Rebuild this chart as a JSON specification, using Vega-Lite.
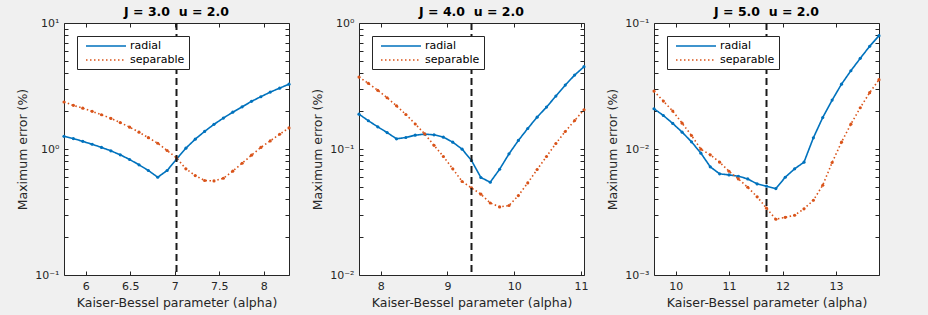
{
  "$schema": "https://vega.github.io/schema/vega-lite/v6.json",
  "background": "#f0f0f0",
  "padding": {"left": 16, "top": 5, "right": 48, "bottom": 11},
  "spacing": 70,
  "bounds": "flush",
  "datasets": {
    "curves": [
      {"p":1,"s":"radial","a":5.7564,"e":1.26},{"p":1,"s":"radial","a":5.8617,"e":1.21},{"p":1,"s":"radial","a":5.967,"e":1.15},{"p":1,"s":"radial","a":6.0723,"e":1.09},{"p":1,"s":"radial","a":6.1776,"e":1.03},{"p":1,"s":"radial","a":6.2829,"e":0.967},{"p":1,"s":"radial","a":6.3882,"e":0.899},{"p":1,"s":"radial","a":6.4935,"e":0.826},{"p":1,"s":"radial","a":6.5988,"e":0.749},{"p":1,"s":"radial","a":6.7041,"e":0.675},{"p":1,"s":"radial","a":6.8094,"e":0.597},{"p":1,"s":"radial","a":6.9147,"e":0.675},{"p":1,"s":"radial","a":7.02,"e":0.83},{"p":1,"s":"radial","a":7.1253,"e":1.015},{"p":1,"s":"radial","a":7.2306,"e":1.197},{"p":1,"s":"radial","a":7.3359,"e":1.38},{"p":1,"s":"radial","a":7.4412,"e":1.57},{"p":1,"s":"radial","a":7.5465,"e":1.76},{"p":1,"s":"radial","a":7.6518,"e":1.96},{"p":1,"s":"radial","a":7.7571,"e":2.16},{"p":1,"s":"radial","a":7.8624,"e":2.39},{"p":1,"s":"radial","a":7.9677,"e":2.6},{"p":1,"s":"radial","a":8.073,"e":2.83},{"p":1,"s":"radial","a":8.1783,"e":3.04},{"p":1,"s":"radial","a":8.2836,"e":3.27},
      {"p":1,"s":"separable","a":5.7564,"e":2.36},{"p":1,"s":"separable","a":5.8617,"e":2.22},{"p":1,"s":"separable","a":5.967,"e":2.11},{"p":1,"s":"separable","a":6.0723,"e":1.99},{"p":1,"s":"separable","a":6.1776,"e":1.87},{"p":1,"s":"separable","a":6.2829,"e":1.75},{"p":1,"s":"separable","a":6.3882,"e":1.62},{"p":1,"s":"separable","a":6.4935,"e":1.49},{"p":1,"s":"separable","a":6.5988,"e":1.36},{"p":1,"s":"separable","a":6.7041,"e":1.23},{"p":1,"s":"separable","a":6.8094,"e":1.11},{"p":1,"s":"separable","a":6.9147,"e":0.973},{"p":1,"s":"separable","a":7.02,"e":0.851},{"p":1,"s":"separable","a":7.1253,"e":0.696},{"p":1,"s":"separable","a":7.2306,"e":0.615},{"p":1,"s":"separable","a":7.3359,"e":0.562},{"p":1,"s":"separable","a":7.4412,"e":0.558},{"p":1,"s":"separable","a":7.5465,"e":0.586},{"p":1,"s":"separable","a":7.6518,"e":0.667},{"p":1,"s":"separable","a":7.7571,"e":0.771},{"p":1,"s":"separable","a":7.8624,"e":0.893},{"p":1,"s":"separable","a":7.9677,"e":1.03},{"p":1,"s":"separable","a":8.073,"e":1.16},{"p":1,"s":"separable","a":8.1783,"e":1.31},{"p":1,"s":"separable","a":8.2836,"e":1.47},
      {"p":2,"s":"radial","a":7.6752,"e":0.189},{"p":2,"s":"radial","a":7.8156,"e":0.1675},{"p":2,"s":"radial","a":7.956,"e":0.15},{"p":2,"s":"radial","a":8.0964,"e":0.135},{"p":2,"s":"radial","a":8.2368,"e":0.1205},{"p":2,"s":"radial","a":8.3772,"e":0.1234},{"p":2,"s":"radial","a":8.5176,"e":0.1288},{"p":2,"s":"radial","a":8.658,"e":0.1312},{"p":2,"s":"radial","a":8.7984,"e":0.1296},{"p":2,"s":"radial","a":8.9388,"e":0.1242},{"p":2,"s":"radial","a":9.0792,"e":0.1133},{"p":2,"s":"radial","a":9.2196,"e":0.0997},{"p":2,"s":"radial","a":9.36,"e":0.081},{"p":2,"s":"radial","a":9.5004,"e":0.0594},{"p":2,"s":"radial","a":9.6408,"e":0.0545},{"p":2,"s":"radial","a":9.7812,"e":0.0691},{"p":2,"s":"radial","a":9.9216,"e":0.0915},{"p":2,"s":"radial","a":10.062,"e":0.1169},{"p":2,"s":"radial","a":10.2024,"e":0.1455},{"p":2,"s":"radial","a":10.3428,"e":0.179},{"p":2,"s":"radial","a":10.4832,"e":0.215},{"p":2,"s":"radial","a":10.6236,"e":0.263},{"p":2,"s":"radial","a":10.764,"e":0.3216},{"p":2,"s":"radial","a":10.9044,"e":0.386},{"p":2,"s":"radial","a":11.0448,"e":0.45},
      {"p":2,"s":"separable","a":7.6752,"e":0.372},{"p":2,"s":"separable","a":7.8156,"e":0.332},{"p":2,"s":"separable","a":7.956,"e":0.292},{"p":2,"s":"separable","a":8.0964,"e":0.255},{"p":2,"s":"separable","a":8.2368,"e":0.22},{"p":2,"s":"separable","a":8.3772,"e":0.188},{"p":2,"s":"separable","a":8.5176,"e":0.158},{"p":2,"s":"separable","a":8.658,"e":0.132},{"p":2,"s":"separable","a":8.7984,"e":0.107},{"p":2,"s":"separable","a":8.9388,"e":0.0872},{"p":2,"s":"separable","a":9.0792,"e":0.0696},{"p":2,"s":"separable","a":9.2196,"e":0.0552},{"p":2,"s":"separable","a":9.36,"e":0.0491},{"p":2,"s":"separable","a":9.5004,"e":0.0438},{"p":2,"s":"separable","a":9.6408,"e":0.0373},{"p":2,"s":"separable","a":9.7812,"e":0.0347},{"p":2,"s":"separable","a":9.9216,"e":0.0356},{"p":2,"s":"separable","a":10.062,"e":0.0427},{"p":2,"s":"separable","a":10.2024,"e":0.0538},{"p":2,"s":"separable","a":10.3428,"e":0.0687},{"p":2,"s":"separable","a":10.4832,"e":0.0872},{"p":2,"s":"separable","a":10.6236,"e":0.1106},{"p":2,"s":"separable","a":10.764,"e":0.1377},{"p":2,"s":"separable","a":10.9044,"e":0.168},{"p":2,"s":"separable","a":11.0448,"e":0.205},
      {"p":3,"s":"radial","a":9.594,"e":0.02085},{"p":3,"s":"radial","a":9.7695,"e":0.01845},{"p":3,"s":"radial","a":9.945,"e":0.01595},{"p":3,"s":"radial","a":10.1205,"e":0.01361},{"p":3,"s":"radial","a":10.296,"e":0.0114},{"p":3,"s":"radial","a":10.4715,"e":0.00927},{"p":3,"s":"radial","a":10.647,"e":0.00722},{"p":3,"s":"radial","a":10.8225,"e":0.00635},{"p":3,"s":"radial","a":10.998,"e":0.00623},{"p":3,"s":"radial","a":11.1735,"e":0.00608},{"p":3,"s":"radial","a":11.349,"e":0.00579},{"p":3,"s":"radial","a":11.5245,"e":0.00528},{"p":3,"s":"radial","a":11.7,"e":0.00507},{"p":3,"s":"radial","a":11.8755,"e":0.00485},{"p":3,"s":"radial","a":12.051,"e":0.00597},{"p":3,"s":"radial","a":12.2265,"e":0.00696},{"p":3,"s":"radial","a":12.402,"e":0.00786},{"p":3,"s":"radial","a":12.5775,"e":0.01227},{"p":3,"s":"radial","a":12.753,"e":0.01779},{"p":3,"s":"radial","a":12.9285,"e":0.02443},{"p":3,"s":"radial","a":13.104,"e":0.0327},{"p":3,"s":"radial","a":13.2795,"e":0.0418},{"p":3,"s":"radial","a":13.455,"e":0.0524},{"p":3,"s":"radial","a":13.6305,"e":0.0653},{"p":3,"s":"radial","a":13.806,"e":0.0793},
      {"p":3,"s":"separable","a":9.594,"e":0.0288},{"p":3,"s":"separable","a":9.7695,"e":0.024},{"p":3,"s":"separable","a":9.945,"e":0.02},{"p":3,"s":"separable","a":10.1205,"e":0.01604},{"p":3,"s":"separable","a":10.296,"e":0.0128},{"p":3,"s":"separable","a":10.4715,"e":0.00997},{"p":3,"s":"separable","a":10.647,"e":0.00899},{"p":3,"s":"separable","a":10.8225,"e":0.00786},{"p":3,"s":"separable","a":10.998,"e":0.00666},{"p":3,"s":"separable","a":11.1735,"e":0.00579},{"p":3,"s":"separable","a":11.349,"e":0.00497},{"p":3,"s":"separable","a":11.5245,"e":0.00417},{"p":3,"s":"separable","a":11.7,"e":0.00339},{"p":3,"s":"separable","a":11.8755,"e":0.00277},{"p":3,"s":"separable","a":12.051,"e":0.00287},{"p":3,"s":"separable","a":12.2265,"e":0.00298},{"p":3,"s":"separable","a":12.402,"e":0.00335},{"p":3,"s":"separable","a":12.5775,"e":0.00392},{"p":3,"s":"separable","a":12.753,"e":0.00516},{"p":3,"s":"separable","a":12.9285,"e":0.00781},{"p":3,"s":"separable","a":13.104,"e":0.01133},{"p":3,"s":"separable","a":13.2795,"e":0.01575},{"p":3,"s":"separable","a":13.455,"e":0.02125},{"p":3,"s":"separable","a":13.6305,"e":0.028},{"p":3,"s":"separable","a":13.806,"e":0.0355}
    ],
    "refs": [{"p":1,"a0":7.02},{"p":2,"a0":9.36},{"p":3,"a0":11.7}]
  },
  "hconcat": [
    {
      "width": 225, "height": 252,
      "title": {"text": "J = 3.0 \u00a0u = 2.0"},
      "layer": [
        {
          "data": {"name": "curves"}, "transform": [{"filter": "datum.p == 1"}],
          "mark": {"type": "line", "strokeWidth": 1.6},
          "encoding": {
            "x": {"field": "a", "type": "quantitative", "scale": {"domain": [5.7564, 8.2836], "nice": false, "zero": false}, "axis": {"orient": "bottom", "values": [6, 6.5, 7, 7.5, 8], "format": "~g", "title": "Kaiser-Bessel parameter (alpha)"}},
            "y": {"field": "e", "type": "quantitative", "scale": {"type": "log", "domain": [0.1, 10], "nice": false}, "axis": {"orient": "left", "values": [0.1,0.2,0.3,0.4,0.5,0.6,0.7,0.8,0.9,1,2,3,4,5,6,7,8,9,10], "title": "Maximum error (%)"}},
            "color": {"field": "s", "type": "nominal", "scale": {"domain": ["radial", "separable"], "range": ["#0072BD", "#D95319"]}},
            "strokeDash": {"field": "s", "type": "nominal", "scale": {"domain": ["radial", "separable"], "range": [[1, 0], [1.5, 2.5]]}}
          }
        },
        {
          "data": {"name": "curves"}, "transform": [{"filter": "datum.p == 1"}],
          "mark": {"type": "point", "filled": true, "size": 10, "opacity": 1},
          "encoding": {
            "x": {"field": "a", "type": "quantitative", "axis": null},
            "y": {"field": "e", "type": "quantitative", "axis": {"orient": "right", "labels": false, "title": null, "values": [0.1,0.2,0.3,0.4,0.5,0.6,0.7,0.8,0.9,1,2,3,4,5,6,7,8,9,10]}},
            "color": {"field": "s", "type": "nominal"}
          }
        },
        {
          "data": {"name": "refs"}, "transform": [{"filter": "datum.p == 1"}],
          "mark": {"type": "rule", "color": "#1a1a1a", "strokeWidth": 2, "strokeDash": [7, 4]},
          "encoding": {"x": {"field": "a0", "type": "quantitative", "axis": {"orient": "top", "labels": false, "title": null, "values": [6, 6.5, 7, 7.5, 8]}}}
        }
      ],
      "resolve": {"axis": {"x": "independent", "y": "independent"}}
    },
    {
      "width": 225, "height": 252,
      "title": {"text": "J = 4.0 \u00a0u = 2.0"},
      "layer": [
        {
          "data": {"name": "curves"}, "transform": [{"filter": "datum.p == 2"}],
          "mark": {"type": "line", "strokeWidth": 1.6},
          "encoding": {
            "x": {"field": "a", "type": "quantitative", "scale": {"domain": [7.6752, 11.0448], "nice": false, "zero": false}, "axis": {"orient": "bottom", "values": [8, 9, 10, 11], "format": "~g", "title": "Kaiser-Bessel parameter (alpha)"}},
            "y": {"field": "e", "type": "quantitative", "scale": {"type": "log", "domain": [0.01, 1], "nice": false}, "axis": {"orient": "left", "values": [0.01,0.02,0.03,0.04,0.05,0.06,0.07,0.08,0.09,0.1,0.2,0.3,0.4,0.5,0.6,0.7,0.8,0.9,1], "title": "Maximum error (%)"}},
            "color": {"field": "s", "type": "nominal", "scale": {"domain": ["radial", "separable"], "range": ["#0072BD", "#D95319"]}},
            "strokeDash": {"field": "s", "type": "nominal", "scale": {"domain": ["radial", "separable"], "range": [[1, 0], [1.5, 2.5]]}}
          }
        },
        {
          "data": {"name": "curves"}, "transform": [{"filter": "datum.p == 2"}],
          "mark": {"type": "point", "filled": true, "size": 10, "opacity": 1},
          "encoding": {
            "x": {"field": "a", "type": "quantitative", "axis": null},
            "y": {"field": "e", "type": "quantitative", "axis": {"orient": "right", "labels": false, "title": null, "values": [0.01,0.02,0.03,0.04,0.05,0.06,0.07,0.08,0.09,0.1,0.2,0.3,0.4,0.5,0.6,0.7,0.8,0.9,1]}},
            "color": {"field": "s", "type": "nominal"}
          }
        },
        {
          "data": {"name": "refs"}, "transform": [{"filter": "datum.p == 2"}],
          "mark": {"type": "rule", "color": "#1a1a1a", "strokeWidth": 2, "strokeDash": [7, 4]},
          "encoding": {"x": {"field": "a0", "type": "quantitative", "axis": {"orient": "top", "labels": false, "title": null, "values": [8, 9, 10, 11]}}}
        }
      ],
      "resolve": {"axis": {"x": "independent", "y": "independent"}}
    },
    {
      "width": 225, "height": 252,
      "title": {"text": "J = 5.0 \u00a0u = 2.0"},
      "layer": [
        {
          "data": {"name": "curves"}, "transform": [{"filter": "datum.p == 3"}],
          "mark": {"type": "line", "strokeWidth": 1.6},
          "encoding": {
            "x": {"field": "a", "type": "quantitative", "scale": {"domain": [9.594, 13.806], "nice": false, "zero": false}, "axis": {"orient": "bottom", "values": [10, 11, 12, 13], "format": "~g", "title": "Kaiser-Bessel parameter (alpha)"}},
            "y": {"field": "e", "type": "quantitative", "scale": {"type": "log", "domain": [0.001, 0.1], "nice": false}, "axis": {"orient": "left", "values": [0.001,0.002,0.003,0.004,0.005,0.006,0.007,0.008,0.009,0.01,0.02,0.03,0.04,0.05,0.06,0.07,0.08,0.09,0.1], "title": "Maximum error (%)"}},
            "color": {"field": "s", "type": "nominal", "scale": {"domain": ["radial", "separable"], "range": ["#0072BD", "#D95319"]}},
            "strokeDash": {"field": "s", "type": "nominal", "scale": {"domain": ["radial", "separable"], "range": [[1, 0], [1.5, 2.5]]}}
          }
        },
        {
          "data": {"name": "curves"}, "transform": [{"filter": "datum.p == 3"}],
          "mark": {"type": "point", "filled": true, "size": 10, "opacity": 1},
          "encoding": {
            "x": {"field": "a", "type": "quantitative", "axis": null},
            "y": {"field": "e", "type": "quantitative", "axis": {"orient": "right", "labels": false, "title": null, "values": [0.001,0.002,0.003,0.004,0.005,0.006,0.007,0.008,0.009,0.01,0.02,0.03,0.04,0.05,0.06,0.07,0.08,0.09,0.1]}},
            "color": {"field": "s", "type": "nominal"}
          }
        },
        {
          "data": {"name": "refs"}, "transform": [{"filter": "datum.p == 3"}],
          "mark": {"type": "rule", "color": "#1a1a1a", "strokeWidth": 2, "strokeDash": [7, 4]},
          "encoding": {"x": {"field": "a0", "type": "quantitative", "axis": {"orient": "top", "labels": false, "title": null, "values": [10, 11, 12, 13]}}}
        }
      ],
      "resolve": {"axis": {"x": "independent", "y": "independent"}}
    }
  ],
  "resolve": {"legend": {"color": "independent", "strokeDash": "independent"}},
  "config": {
    "font": "DejaVu Sans",
    "view": {"stroke": "#262626", "strokeWidth": 1, "fill": "white"},
    "title": {"font": "DejaVu Sans", "fontSize": 12.5, "fontWeight": "bold", "color": "#000000", "offset": -1},
    "axis": {
      "domain": false, "grid": false, "tickSize": 4, "offset": -4, "tickColor": "#262626", "tickWidth": 1,
      "labelFont": "DejaVu Sans", "labelFontSize": 11, "labelColor": "#262626", "labelPadding": 5, "labelOverlap": false,
      "titleFont": "DejaVu Sans", "titleFontSize": 12.5, "titleFontWeight": "normal", "titleColor": "#262626", "titlePadding": 5
    },
    "axisY": {
      "labelExpr": "abs(log(datum.value)/LN10 - round(log(datum.value)/LN10)) < 0.001 ? (round(log(datum.value)/LN10) == 1 ? '10\u00b9' : round(log(datum.value)/LN10) == 0 ? '10\u2070' : round(log(datum.value)/LN10) == -1 ? '10\u207b\u00b9' : round(log(datum.value)/LN10) == -2 ? '10\u207b\u00b2' : '10\u207b\u00b3') : ''"
    },
    "legend": {
      "orient": "none", "legendX": 13, "legendY": 13, "title": null,
      "strokeColor": "#262626", "fillColor": "white", "padding": 4, "cornerRadius": 0,
      "labelFont": "DejaVu Sans", "labelFontSize": 11, "labelColor": "#000000",
      "symbolType": "M-0.2,0H7.8", "symbolSize": 100, "symbolStrokeWidth": 1.6, "rowPadding": 3, "labelOffset": 37
    }
  }
}
